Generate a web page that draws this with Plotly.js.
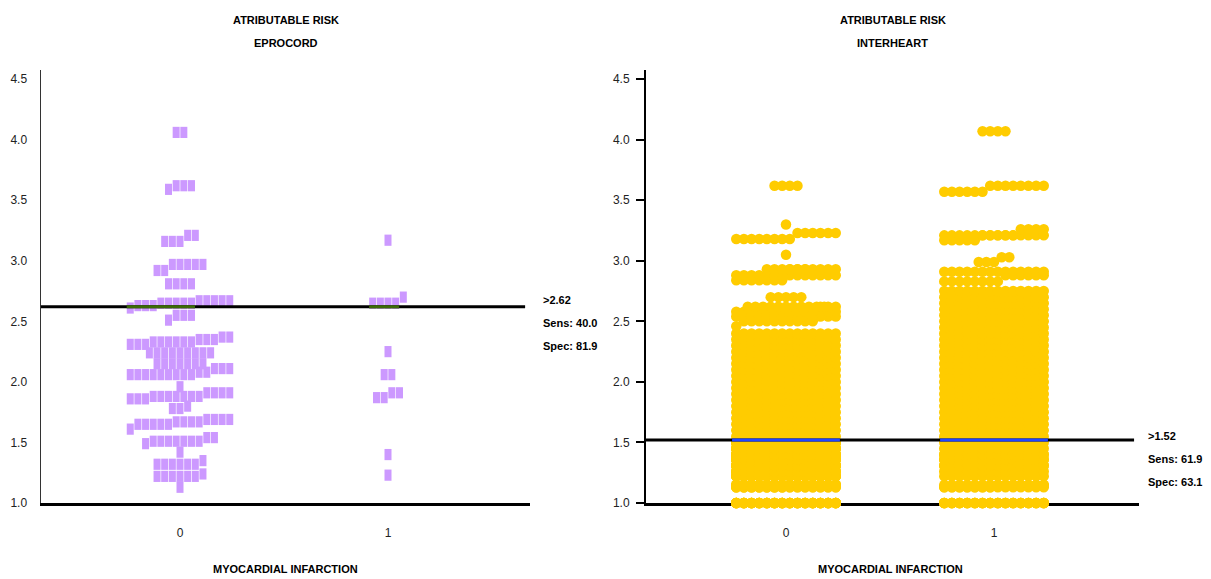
<!DOCTYPE html>
<html><head><meta charset="utf-8">
<script src="https://cdn.plot.ly/plotly-3.0.1.min.js"></script>
<style>html,body{margin:0;padding:0;background:#fff}#chart{width:1211px;height:579px}</style>
</head><body><div id="chart"></div>
<script>
// ---------------- DATA ----------------
const categories = ['0', '1'];
const categoryCodes = [0, 1];
const yTickValues = [1.0, 1.5, 2.0, 2.5, 3.0, 3.5, 4.0, 4.5];
const yTickLabels = ['1.0', '1.5', '2.0', '2.5', '3.0', '3.5', '4.0', '4.5'];

// EPROCORD – group 0 (no MI) : value / number of subjects
const ep0Values = [1.13,1.22,1.24,1.32,1.35,1.42,1.49,1.51,1.54,1.61,1.65,1.67,1.69,1.78,1.80,1.86,1.88,1.91,1.96,2.06,2.08,2.11,2.15,2.24,2.31,2.33,2.35,2.37,2.51,2.55,2.61,2.63,2.65,2.67,2.81,2.92,2.97,3.16,3.21,3.59,3.62,4.06];
const ep0Counts = [1,6,1,6,1,1,1,7,2,1,5,4,4,2,1,3,7,4,1,9,2,3,7,9,3,6,3,2,1,3,1,3,5,5,4,2,5,3,2,1,3,2];
// EPROCORD – group 1 (MI)
const ep1Values = [1.23,1.40,1.87,1.91,2.06,2.25,2.65,2.70,3.17];
const ep1Counts = [1,1,2,2,2,1,4,1,1];

// INTERHEART – group 0
const ih0Values = [1.00,1.13,1.15,1.22,1.26,1.31,1.36,1.40,1.45,1.50,1.55,1.60,1.65,1.70,1.75,1.80,1.85,1.90,1.95,2.00,2.05,2.10,2.15,2.20,2.25,2.30,2.35,2.40,2.46,2.50,2.54,2.58,2.62,2.70,2.84,2.88,2.93,3.05,3.18,3.23,3.30,3.62];
const ih0Counts = [98,35,49,56,42,70,56,70,56,84,14,14,14,14,14,14,14,14,14,14,14,14,14,14,14,14,14,14,1,10,14,14,14,5,7,14,13,1,8,6,1,4];
// INTERHEART – group 1
const ih1Values = [1.00,1.13,1.15,1.22,1.26,1.31,1.36,1.40,1.45,1.50,1.55,1.60,1.65,1.70,1.75,1.80,1.85,1.90,1.95,2.00,2.05,2.10,2.15,2.20,2.25,2.30,2.35,2.40,2.45,2.50,2.55,2.60,2.65,2.70,2.75,2.83,2.88,2.91,2.99,3.03,3.17,3.21,3.26,3.57,3.62,4.07];
const ih1Counts = [70,21,21,14,14,28,28,28,14,14,14,14,14,14,14,14,14,14,14,14,14,14,14,14,14,14,14,14,14,14,14,14,14,14,14,8,6,14,3,2,5,19,4,6,8,4];

// cut-offs
const epCut = 2.62, epSens = '40.0', epSpec = '81.9';
const ihCut = 1.52, ihSens = '61.9', ihSpec = '63.1';

// ---------------- LAYOUT HELPERS ----------------
const W = 1211, H = 579;
const FONT = '"Liberation Sans", Arial, sans-serif';
const PURPLE = '#CC99FF', YELLOW = '#FFCC00';
const DOT_STEP = 0.0368;   // horizontal step between neighbouring dots (axis units)
const PER_ROW = 14;        // max dots in a row
const ROW_GAP = 0.055;     // a larger jump in value starts a new row

function dotPlot(values, counts, center) {
  const pts = [];
  values.forEach((v, i) => { for (let k = 0; k < counts[i]; k++) pts.push(v); });
  pts.sort((a, b) => a - b);
  const rows = []; let cur = [];
  pts.forEach(v => {
    if (cur.length && (cur.length >= PER_ROW || v - cur[cur.length - 1] > ROW_GAP)) { rows.push(cur); cur = []; }
    cur.push(v);
  });
  if (cur.length) rows.push(cur);
  const x = [], y = [];
  rows.forEach(r => {
    const n = r.length;
    r.forEach((v, j) => { x.push(center + (j - (n - 1) / 2) * DOT_STEP); y.push(v); });
  });
  return { x, y };
}

const ep0 = dotPlot(ep0Values, ep0Counts, categoryCodes[0]);
const ep1 = dotPlot(ep1Values, ep1Counts, categoryCodes[1]);
const ih0 = dotPlot(ih0Values, ih0Counts, categoryCodes[0]);
const ih1 = dotPlot(ih1Values, ih1Counts, categoryCodes[1]);

const sqMarker = { symbol: 'line-ns', size: 8, color: PURPLE, line: { color: PURPLE, width: 7 } };
const ciMarker = { symbol: 'circle', size: 10.5, color: YELLOW, line: { width: 0 } };

const traces = [
  { type: 'scatter', mode: 'markers', x: ep0.x, y: ep0.y, xaxis: 'x', yaxis: 'y', marker: sqMarker, cliponaxis: false, hoverinfo: 'skip', showlegend: false },
  { type: 'scatter', mode: 'markers', x: ep1.x, y: ep1.y, xaxis: 'x', yaxis: 'y', marker: sqMarker, cliponaxis: false, hoverinfo: 'skip', showlegend: false },
  { type: 'scatter', mode: 'markers', x: ih0.x, y: ih0.y, xaxis: 'x2', yaxis: 'y2', marker: ciMarker, cliponaxis: false, hoverinfo: 'skip', showlegend: false },
  { type: 'scatter', mode: 'markers', x: ih1.x, y: ih1.y, xaxis: 'x2', yaxis: 'y2', marker: ciMarker, cliponaxis: false, hoverinfo: 'skip', showlegend: false }
];

// coloured part of the cut-off line where it crosses the marks
function crossSegments(sets, cut, halfH, halfW, xref, yref, color) {
  const segs = [];
  sets.forEach(s => {
    let lo = Infinity, hi = -Infinity;
    s.y.forEach((v, i) => { if (Math.abs(v - cut) < halfH) { lo = Math.min(lo, s.x[i]); hi = Math.max(hi, s.x[i]); } });
    if (lo <= hi) segs.push({ type: 'line', xref, yref, x0: lo - halfW, x1: hi + halfW, y0: cut, y1: cut, line: { color, width: 3 }, layer: 'above' });
  });
  return segs;
}

const px = x => x / W, py = y => 1 - y / H;
const yDom = [py(503), py(70)];
const yRange = [1, 1 + (503 - 70) / 121.1];

const axFont = { family: FONT, size: 12, color: '#222' };
const xCommon = { tickvals: categoryCodes, ticktext: categories, showgrid: false, zeroline: false, showline: true, linecolor: '#000', linewidth: 3, ticks: '', ticklabelstandoff: 17, tickfont: axFont, layer: 'below traces', fixedrange: true };
const yCommon = { range: yRange, domain: yDom, tickvals: yTickValues, ticktext: yTickLabels, showgrid: false, zeroline: false, showline: true, tickfont: axFont, layer: 'below traces', fixedrange: true };

const shapes = [
  { type: 'line', xref: 'x domain', yref: 'y', x0: 0, x1: 0.99, y0: epCut, y1: epCut, line: { color: '#000', width: 3 }, layer: 'above' },
  { type: 'line', xref: 'x2 domain', yref: 'y2', x0: 0, x1: 0.99, y0: ihCut, y1: ihCut, line: { color: '#000', width: 3 }, layer: 'above' }
].concat(
  crossSegments([ep0, ep1], epCut, 0.045, 0.017, 'x', 'y', '#3C6A08'),
  crossSegments([ih0, ih1], ihCut, 0.041, 0.02, 'x2', 'y2', '#2244FF')
);

function txt(text, x, y, opts) {
  return Object.assign({ text, xref: 'paper', yref: 'paper', x: px(x), y: py(y), showarrow: false,
    font: { family: FONT, size: 11, color: '#000' }, xanchor: 'center', yanchor: 'middle' }, opts || {});
}
const annotations = [
  txt('<b>ATRIBUTABLE RISK</b>', 285.5, 20), txt('<b>EPROCORD</b>', 285.5, 43),
  txt('<b>ATRIBUTABLE RISK</b>', 892.5, 20), txt('<b>INTERHEART</b>', 892.5, 43),
  txt('<b>MYOCARDIAL INFARCTION</b>', 285, 569), txt('<b>MYOCARDIAL INFARCTION</b>', 890, 569),
  txt('<b>&gt;' + epCut.toFixed(2) + '</b>', 541, 300, { xanchor: 'left' }),
  txt('<b>Sens: ' + epSens + '</b>', 541, 323, { xanchor: 'left' }),
  txt('<b>Spec: ' + epSpec + '</b>', 541, 346, { xanchor: 'left' }),
  txt('<b>&gt;' + ihCut.toFixed(2) + '</b>', 1146, 436, { xanchor: 'left' }),
  txt('<b>Sens: ' + ihSens + '</b>', 1146, 459, { xanchor: 'left' }),
  txt('<b>Spec: ' + ihSpec + '</b>', 1146, 482, { xanchor: 'left' })
];

const layout = {
  width: W, height: H, margin: { l: 0, r: 0, t: 0, b: 0 },
  paper_bgcolor: '#fff', plot_bgcolor: 'rgba(0,0,0,0)',
  xaxis: Object.assign({}, xCommon, { domain: [px(41), px(530)], range: [-(180 - 41) / 208, (530 - 180) / 208], anchor: 'y' }),
  yaxis: Object.assign({}, yCommon, { anchor: 'x', linecolor: '#333', linewidth: 1.5, ticks: '', ticklabelstandoff: 10 }),
  xaxis2: Object.assign({}, xCommon, { domain: [px(646), px(1139)], range: [-(786 - 646) / 208, (1139 - 786) / 208], anchor: 'y2' }),
  yaxis2: Object.assign({}, yCommon, { anchor: 'x2', linecolor: '#000', linewidth: 2, ticks: 'outside', ticklen: 8, tickwidth: 2, tickcolor: '#000', ticklabelstandoff: 4 }),
  shapes, annotations, showlegend: false
};

Plotly.newPlot('chart', traces, layout, { staticPlot: true, displayModeBar: false });
</script>
</body></html>
